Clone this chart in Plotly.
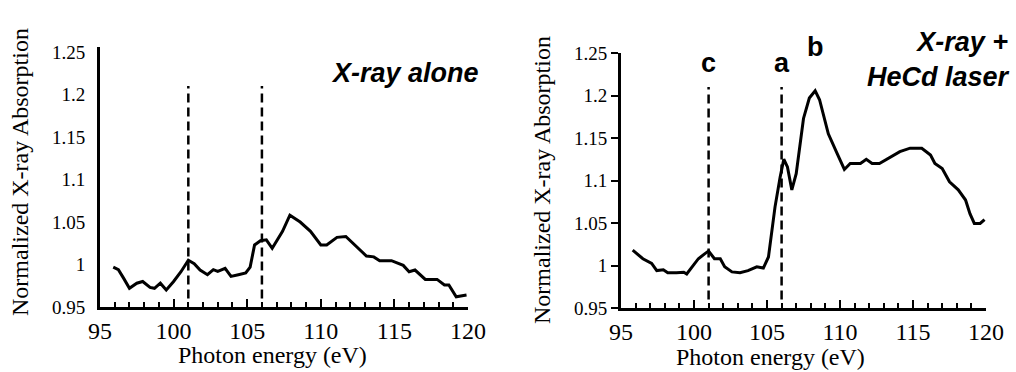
import plotly.graph_objects as go

# ---------------- data ----------------
left_x = [95.9, 96.25, 96.6, 97.0, 97.5, 97.9, 98.4, 98.7, 99.1, 99.5,
          100.0, 100.5, 101.0, 101.4, 101.8, 102.3, 102.7, 103.0, 103.5, 103.9,
          104.4, 104.9, 105.2, 105.5, 105.9, 106.3, 106.7, 107.4, 107.9, 108.6,
          109.3, 110.0, 110.4, 111.1, 111.7, 112.2, 113.1, 113.6, 114.0, 114.8,
          115.6, 116.0, 116.4, 117.1, 117.9, 118.4, 118.7, 119.2, 119.9]
left_y = [0.997, 0.994, 0.984, 0.972, 0.978, 0.980, 0.973, 0.972, 0.978, 0.970,
          0.980, 0.9915, 1.005, 1.001, 0.9935, 0.988, 0.994, 0.992, 0.9955, 0.986,
          0.988, 0.990, 0.997, 1.023, 1.028, 1.029, 1.019, 1.039, 1.058, 1.050,
          1.039, 1.023, 1.023, 1.032, 1.033, 1.025, 1.010, 1.009, 1.0045, 1.0045,
          0.999, 0.9915, 0.9935, 0.9825, 0.9825, 0.976, 0.976, 0.962, 0.964]

right_x = [95.8, 96.5, 97.1, 97.45, 97.9, 98.2, 98.8, 99.3, 99.5, 99.9,
           100.3, 100.75, 101.0, 101.4, 101.8, 102.1, 102.6, 103.15, 103.7, 104.3,
           104.75, 105.1, 105.3, 105.55, 105.9, 106.15, 106.4, 106.7, 107.0, 107.5,
           107.9, 108.3, 108.6, 109.2, 109.8, 110.3, 110.7, 111.4, 111.8, 112.2,
           112.7, 113.3, 114.1, 114.8, 115.6, 116.2, 116.5, 117.0, 117.5, 118.1,
           118.6, 118.9, 119.2, 119.6, 119.9]
right_y = [1.018, 1.008, 1.0025, 0.994, 0.995, 0.9915, 0.9915, 0.992, 0.990, 0.9985,
           1.008, 1.014, 1.017, 1.008, 1.008, 0.9985, 0.9925, 0.9915, 0.994, 0.9985,
           0.997, 1.010, 1.038, 1.069, 1.104, 1.125, 1.116, 1.089, 1.108, 1.173,
           1.197, 1.2055, 1.195, 1.155, 1.132, 1.113, 1.120, 1.120, 1.125, 1.120,
           1.120, 1.126, 1.134, 1.138, 1.138, 1.130, 1.120, 1.114, 1.0985, 1.089,
           1.077, 1.061, 1.0495, 1.0495, 1.054]

x_tickvals = [95, 100, 105, 110, 115, 120]
x_ticktext = ["95", "100", "105", "110", "115", "120"]
y_tickvals = [0.95, 1.0, 1.05, 1.1, 1.15, 1.2, 1.25]
y_ticktext = ["0.95", "1", "1.05", "1.1", "1.15", "1.2", "1.25"]

left_dashed_x = [101, 106]
right_dashed_x = [101, 106]
right_dashed_labels = ["c", "a"]
dashed_y = [0.96, 1.21]

peak_b_x = 108.3
left_title = "X-ray alone"
right_title = "X-ray +<br>HeCd laser"
x_title = "Photon energy (eV)"
y_title = "Normalized X-ray Absorption"

# ---------------- figure ----------------
# the page body margin is removed (post_script), so the figure fills the window
W, H = 1016, 372
SERIF = "Liberation Serif"
SANS = "Liberation Sans"


def px(xp):
    return xp / W


def py(yp):
    return 1 - yp / H


fig = go.Figure()
fig.add_trace(go.Scatter(x=left_x, y=left_y, mode="lines",
                         line=dict(color="black", width=3), xaxis="x", yaxis="y",
                         showlegend=False, hoverinfo="skip"))
fig.add_trace(go.Scatter(x=right_x, y=right_y, mode="lines",
                         line=dict(color="black", width=3), xaxis="x2", yaxis="y2",
                         showlegend=False, hoverinfo="skip"))

for xv in left_dashed_x:
    fig.add_trace(go.Scatter(x=[xv, xv], y=dashed_y, mode="lines",
                             line=dict(color="black", width=2.5, dash="9px,5px"),
                             xaxis="x", yaxis="y", showlegend=False, hoverinfo="skip"))
for xv in right_dashed_x:
    fig.add_trace(go.Scatter(x=[xv, xv], y=dashed_y, mode="lines",
                             line=dict(color="black", width=2.5, dash="9px,5px"),
                             xaxis="x2", yaxis="y2", showlegend=False, hoverinfo="skip"))


def xaxis_cfg(domain, anchor):
    return dict(domain=domain, anchor=anchor, range=[95, 120],
                tickmode="array", tickvals=x_tickvals, ticktext=x_ticktext,
                ticks="inside", ticklen=8, tickwidth=2, tickcolor="black",
                minor=dict(ticks="inside", tickmode="linear", tick0=95, dtick=1,
                           ticklen=5, tickwidth=2, tickcolor="black", showgrid=False),
                showline=True, linecolor="black", linewidth=3,
                showgrid=False, zeroline=False, automargin=False,
                layer="above traces",
                tickfont=dict(family=SERIF, size=24, color="black"))


left_dom_x = [px(100), px(468)]
right_dom_x = [px(621), px(986)]
left_dom_y = [py(307), py(47)]
right_dom_y = [py(308), py(53)]

fig.update_layout(
    width=W, height=H,
    margin=dict(l=0, r=0, t=0, b=0, autoexpand=False),
    paper_bgcolor="white", plot_bgcolor="white",
    showlegend=False,
    xaxis=xaxis_cfg(left_dom_x, "y"),
    xaxis2=xaxis_cfg(right_dom_x, "y2"),
    yaxis=dict(domain=left_dom_y, anchor="x", range=[0.95, 1.256],
               tickmode="array", tickvals=y_tickvals, ticktext=y_ticktext, ticks="",
               showline=True, linecolor="black", linewidth=3, automargin=False,
               showgrid=False, zeroline=False, ticklabelstandoff=8,
               tickfont=dict(family=SERIF, size=19, color="black")),
    yaxis2=dict(domain=right_dom_y, anchor="x2", range=[0.95, 1.25],
                tickmode="array", tickvals=y_tickvals, ticktext=y_ticktext, ticks="outside",
                ticklen=7, tickwidth=2, tickcolor="black", automargin=False,
                showline=True, linecolor="black", linewidth=3,
                showgrid=False, zeroline=False,
                tickfont=dict(family=SERIF, size=19, color="black")),
)

ann = []
ann.append(dict(text=y_title, x=px(20), y=py(172), xref="paper", yref="paper",
                textangle=-90, showarrow=False, xanchor="center", yanchor="middle",
                font=dict(family=SERIF, size=24, color="black")))
ann.append(dict(text=y_title, x=px(542), y=py(180), xref="paper", yref="paper",
                textangle=-90, showarrow=False, xanchor="center", yanchor="middle",
                font=dict(family=SERIF, size=24, color="black")))
ann.append(dict(text=x_title, x=px(272), y=py(355), xref="paper", yref="paper",
                showarrow=False, xanchor="center", yanchor="middle",
                font=dict(family=SERIF, size=24, color="black")))
ann.append(dict(text=x_title, x=px(770), y=py(357), xref="paper", yref="paper",
                showarrow=False, xanchor="center", yanchor="middle",
                font=dict(family=SERIF, size=24, color="black")))
ann.append(dict(text="<b><i>" + left_title + "</i></b>", x=px(405), y=py(73),
                xref="paper", yref="paper", showarrow=False,
                xanchor="center", yanchor="middle",
                font=dict(family=SANS, size=27, color="black")))
ann.append(dict(text="<b><i>" + right_title + "</i></b>", x=px(938), y=py(60),
                xref="paper", yref="paper", showarrow=False, align="right",
                xanchor="center", yanchor="middle",
                font=dict(family=SANS, size=27, color="black")))
for xv, lab in zip(right_dashed_x, right_dashed_labels):
    ann.append(dict(text="<b>" + lab + "</b>", x=xv, y=py(63), xref="x2", yref="paper",
                    showarrow=False, xanchor="center", yanchor="middle",
                    font=dict(family=SANS, size=27, color="black")))
ann.append(dict(text="<b>b</b>", x=peak_b_x, y=py(47), xref="x2", yref="paper",
                showarrow=False, xanchor="center", yanchor="middle",
                font=dict(family=SANS, size=27, color="black")))

fig.update_layout(annotations=ann)
fig.write_html("out.html", config={"displayModeBar": False},
               post_script="document.body.style.margin='0';document.body.style.overflow='hidden';")
